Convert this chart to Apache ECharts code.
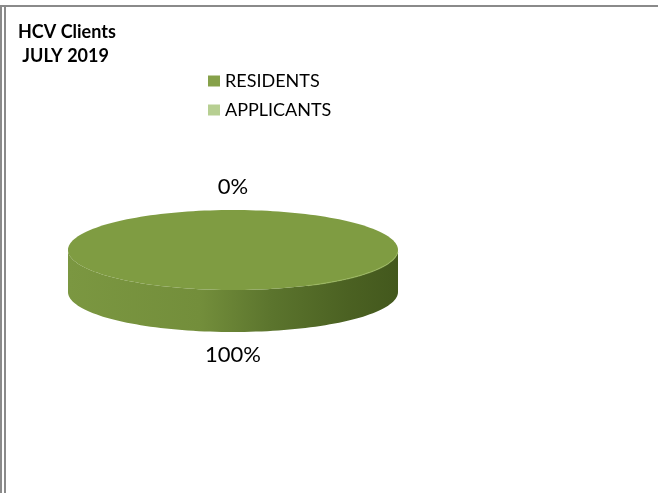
<!DOCTYPE html>
<html>
<head>
<meta charset="utf-8">
<script src="https://cdn.jsdelivr.net/npm/echarts@6/dist/echarts.min.js"></script>
<style>
  html, body { margin: 0; padding: 0; background: #fff; }
  #chart { width: 658px; height: 493px; }
</style>
</head>
<body>
<div id="chart"></div>
<script>
// HCV clients, July 2019 (share of clients)
const categories = ['RESIDENTS', 'APPLICANTS'];
const values = [100, 0];
const palette = ['#86a14a', '#b7cf92'];

const chart = echarts.init(document.getElementById('chart'), null, { renderer: 'canvas' });

// Tilted disc: centre of the top face, radii of the ellipse, extrusion depth
const disc = { cx: 233, cy: 250, rx: 165, ry: 40, depth: 42 };
const total = values.reduce((a, b) => a + b, 0);
const START = -Math.PI / 2;   // slices start at 12 o'clock, going clockwise
const LABEL_FONT = '22px Lato, "Open Sans", sans-serif';

function arcPoints(a0, a1, yOff) {
  const pts = [];
  const n = Math.max(2, Math.ceil((a1 - a0) / (Math.PI / 90)));
  for (let k = 0; k <= n; k++) {
    const t = a0 + (a1 - a0) * k / n;
    pts.push([disc.cx + disc.rx * Math.cos(t), disc.cy + yOff + disc.ry * Math.sin(t)]);
  }
  return pts;
}

function sliceRenderer(index) {
  return function (params, api) {
    const v = api.value(0);
    let before = 0;
    for (let k = 0; k < index; k++) before += values[k];
    const a0 = START + before / total * 2 * Math.PI;
    const a1 = a0 + v / total * 2 * Math.PI;
    const full = a1 - a0 >= 2 * Math.PI - 1e-9;
    const children = [];

    if (v > 0) {
      // visible front wall: the part of the rim with angles in [0, PI]
      const lo = Math.max(a0, 0), hi = Math.min(a1, Math.PI);
      if (hi > lo) {
        const top = arcPoints(lo, hi, 0);
        const bottom = arcPoints(lo, hi, disc.depth).reverse();
        children.push({
          type: 'polygon',
          shape: { points: top.concat(bottom) },
          style: {
            fill: {
              type: 'linear', x: 0, y: 0, x2: 1, y2: 0,
              colorStops: [
                { offset: 0, color: '#7b9741' },
                { offset: 0.4, color: '#738e3b' },
                { offset: 0.62, color: '#5b742d' },
                { offset: 0.85, color: '#4b6122' },
                { offset: 1, color: '#43581d' }
              ]
            }
          }
        });
        // soft highlight where the top face meets the wall on the right
        const hlo = Math.max(lo, 0.05), hhi = Math.min(hi, 1.1);
        if (hhi > hlo) {
          children.push({
            type: 'polyline',
            shape: { points: arcPoints(hlo, hhi, 0) },
            style: { stroke: 'rgba(160,188,100,0.7)', lineWidth: 1.2, fill: null }
          });
        }
      }
      // top face
      const face = full
        ? arcPoints(a0, a0 + 2 * Math.PI, 0)
        : [[disc.cx, disc.cy]].concat(arcPoints(a0, a1, 0));
      children.splice(children.length - (hi_exists(children) ? 1 : 0), 0, {
        type: 'polygon',
        shape: { points: face },
        style: { fill: '#7f9c42' }
      });
    }

    // percentage label just outside the slice's middle angle
    const mid = (a0 + a1) / 2;
    const s = Math.sin(mid);
    children.push({
      type: 'text',
      style: {
        text: Math.round(v / total * 100) + '%',
        x: disc.cx + (disc.rx + 22) * Math.cos(mid),
        y: disc.cy + (disc.ry + 23) * s + (s > 0 ? disc.depth : 0),
        align: 'center',
        verticalAlign: 'middle',
        font: LABEL_FONT,
        fill: '#000'
      }
    });
    return { type: 'group', children: children };
  };
}

// the rim highlight, when present, is the last child and must stay on top
function hi_exists(children) {
  return children.length > 0 && children[children.length - 1].type === 'polyline';
}

const series = categories.map((name, i) => ({
  type: 'custom',
  name: name,
  coordinateSystem: 'none',
  itemStyle: { color: palette[i] },
  renderItem: sliceRenderer(i),
  data: [[values[i]]],
  silent: true
}));

chart.setOption({
  backgroundColor: '#fff',
  animation: false,
  title: {
    text: 'HCV Clients\n JULY 2019',
    left: 18,
    top: 20,
    padding: 0,
    textStyle: {
      fontFamily: 'Lato, "Open Sans", sans-serif',
      fontWeight: 'bold',
      fontSize: 18,
      lineHeight: 24,
      color: '#000'
    }
  },
  legend: {
    data: categories,
    orient: 'vertical',
    left: 208,
    top: 72,
    padding: 0,
    icon: 'rect',
    itemWidth: 12,
    itemHeight: 11,
    itemGap: 11,
    textStyle: {
      fontFamily: 'Lato, "Open Sans", sans-serif',
      fontSize: 18,
      lineHeight: 18,
      color: '#000'
    }
  },
  graphic: [
    { type: 'rect', shape: { x: 0, y: 5, width: 658, height: 2 }, style: { fill: '#8a8a8a' } },
    { type: 'rect', shape: { x: 0, y: 5, width: 2, height: 488 }, style: { fill: '#8a8a8a' } },
    { type: 'rect', shape: { x: 4, y: 5, width: 2, height: 488 }, style: { fill: '#8a8a8a' } }
  ],
  series: series
});
</script>
</body>
</html>
